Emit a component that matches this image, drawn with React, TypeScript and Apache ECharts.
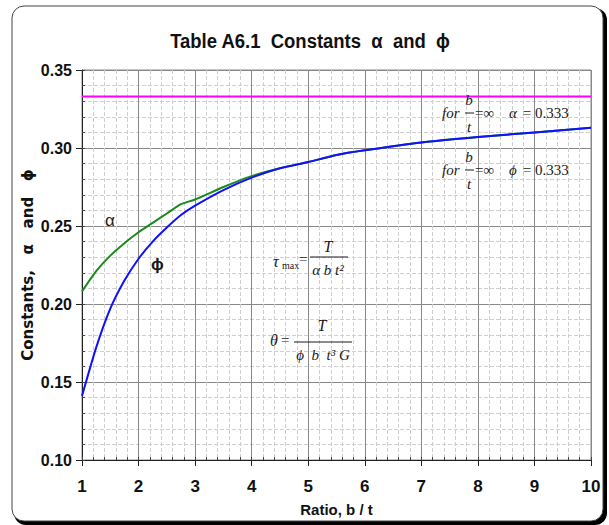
import React, { useEffect, useRef } from "react";
import * as echarts from "echarts";

// Ratio b/t and torsion constants for rectangular sections
const ratio = [1, 1.25, 1.5, 1.75, 2, 2.25, 2.5, 2.75, 3, 3.5, 4, 4.5, 5, 5.5, 6, 7, 8, 9, 10];
const alphaValues = [
  0.208, 0.221, 0.231, 0.239, 0.246, 0.252, 0.258, 0.264, 0.267, 0.275, 0.282, 0.287, 0.291, 0.2955,
  0.2985, 0.3035, 0.307, 0.31, 0.313,
];
const phiValues = [
  0.141, 0.172, 0.197, 0.215, 0.229, 0.24, 0.249, 0.257, 0.263, 0.273, 0.281, 0.287, 0.291, 0.2955,
  0.2985, 0.3035, 0.307, 0.31, 0.313,
];
const limitRatio = [1, 10];
const limitValue = 0.333;

const xMin = 1;
const xMax = 10;
const xStep = 1;
const xMinorStep = 0.2;
const yMin = 0.1;
const yMax = 0.35;
const yStep = 0.05;
const yMinorStep = 0.01;

const sans = "'Liberation Sans', Arial, sans-serif";
const dejavu = "'DejaVu Sans', Verdana, sans-serif";
const serif = "'Liberation Serif', 'Times New Roman', serif";

type TextOpts = {
  size?: number;
  italic?: boolean;
  bold?: boolean;
  family?: string;
  align?: string;
  fill?: string;
  scaleX?: number;
};

function txt(x: number, y: number, text: string, o: TextOpts = {}) {
  return {
    type: "text",
    x,
    y,
    z: 20,
    scaleX: o.scaleX ?? 1,
    style: {
      text,
      fill: o.fill ?? "#1a1a1a",
      fontSize: o.size ?? 15,
      fontStyle: o.italic ? "italic" : "normal",
      fontWeight: o.bold ? "bold" : "normal",
      fontFamily: o.family ?? serif,
      align: o.align ?? "left",
      verticalAlign: "middle",
    },
  };
}

function bar(x1: number, x2: number, y: number) {
  return {
    type: "line",
    z: 20,
    shape: { x1, y1: y, x2, y2: y },
    style: { stroke: "#1a1a1a", lineWidth: 1 },
  };
}

// "for b/t = ∞   sym = 0.333"
function limitNote(y: number, sym: string) {
  return [
    txt(442, y, "for", { italic: true }),
    txt(469, y - 13, "b", { italic: true, align: "center" }),
    bar(465, 474, y),
    txt(469, y + 14, "t", { italic: true, align: "center" }),
    txt(475, y, "=∞"),
    txt(509, y, sym, { italic: true }),
    txt(519, y, " = 0.333"),
  ];
}

const gridLine = { show: true, lineStyle: { color: "#888", width: 1 } };
const dashedLine = { show: true, lineStyle: { color: "#cfcfcf", type: "dashed", width: 1 } };
const tickLabel = { fontFamily: sans, fontWeight: "bold", color: "#111" };

export default function App() {
  const ref = useRef<HTMLDivElement>(null);

  useEffect(() => {
    if (!ref.current) return;
    const chart = echarts.init(ref.current, null, { renderer: "svg" });

    const graphic: any[] = [
      {
        type: "rect",
        z: -10,
        shape: { x: 14, y: 8, width: 593, height: 517, r: 12 },
        style: { fill: "#000" },
      },
      {
        type: "rect",
        z: -9,
        shape: { x: 12, y: 6, width: 591, height: 515, r: 12 },
        style: { fill: "#fff", stroke: "#444", lineWidth: 1 },
      },
      txt(310, 41, "Table A6.1  Constants  α  and  ϕ", {
        size: 21,
        bold: true,
        family: sans,
        align: "center",
        fill: "#111",
        scaleX: 0.88,
      }),
      txt(105, 220, "α", { size: 17, family: sans }),
      txt(151, 264, "ϕ", { size: 17, family: sans, bold: true }),
      ...limitNote(113, "α"),
      ...limitNote(170, "ϕ"),
      // shear stress formula
      txt(273, 261, "τ", { italic: true, size: 16 }),
      txt(282, 265, "max", { size: 10 }),
      txt(299, 259, "="),
      txt(328, 246, "T", { italic: true, size: 16, align: "center" }),
      bar(310, 348, 257),
      txt(328, 270, "α b t²", { italic: true, size: 15, align: "center" }),
      // angle of twist formula
      txt(270, 340, "θ", { italic: true, size: 16 }),
      txt(281, 340, "="),
      txt(322, 325, "T", { italic: true, size: 16, align: "center" }),
      bar(294, 352, 342),
      txt(323, 355, "ϕ  b  t³ G", { italic: true, size: 15, align: "center" }),
    ];

    const hidden = { show: false };

    chart.setOption({
      animation: false,
      graphic,
      grid: {
        left: 82,
        right: 18,
        top: 70,
        bottom: 65,
        show: true,
        borderColor: "#888",
        borderWidth: 1,
      },
      xAxis: [
        {
          type: "value",
          min: xMin,
          max: xMax,
          interval: xStep,
          name: "Ratio, b / t",
          nameLocation: "middle",
          nameGap: 42,
          nameMoveOverlap: false,
          nameTextStyle: { ...tickLabel, fontSize: 15 },
          axisLine: { show: true, lineStyle: { color: "#222", width: 1 } },
          axisTick: { show: true, length: 6, lineStyle: { color: "#222" } },
          axisLabel: { ...tickLabel, margin: 18, fontSize: 17 },
          splitLine: gridLine,
          minorTick: { show: false, splitNumber: 5 },
          minorSplitLine: dashedLine,
        },
        {
          // short inner ticks every 0.2
          type: "value",
          position: "bottom",
          min: xMin,
          max: xMax,
          interval: xMinorStep,
          axisLine: hidden,
          axisTick: { show: true, inside: true, length: 3, lineStyle: { color: "#444" } },
          axisLabel: hidden,
          splitLine: hidden,
        },
      ],
      yAxis: [
        {
          type: "value",
          min: yMin,
          max: yMax,
          interval: yStep,
          name: "Constants,   α   and   ϕ",
          nameLocation: "middle",
          nameGap: 47,
          nameMoveOverlap: false,
          nameTextStyle: { fontFamily: dejavu, fontWeight: "bold", fontSize: 15, color: "#111" },
          axisLine: { show: true, lineStyle: { color: "#222", width: 1 } },
          axisTick: { show: true, length: 6, lineStyle: { color: "#222" } },
          axisLabel: {
            ...tickLabel,
            margin: 10,
            fontSize: 16,
            formatter: (v: number) => v.toFixed(2),
          },
          splitLine: gridLine,
          minorTick: { show: false, splitNumber: 5 },
          minorSplitLine: dashedLine,
        },
        {
          // short inner ticks every 0.01
          type: "value",
          position: "left",
          min: yMin,
          max: yMax,
          interval: yMinorStep,
          axisLine: hidden,
          axisTick: { show: true, inside: true, length: 3, lineStyle: { color: "#444" } },
          axisLabel: hidden,
          splitLine: hidden,
        },
      ],
      series: [
        {
          name: "limit",
          type: "line",
          data: limitRatio.map((x) => [x, limitValue]),
          symbol: "none",
          lineStyle: { color: "#ff00ff", width: 2 },
          z: 3,
        },
        {
          name: "α",
          type: "line",
          data: ratio.map((x, i) => [x, alphaValues[i]]),
          symbol: "none",
          smooth: 0.2,
          lineStyle: { color: "#1a8a1a", width: 2 },
          z: 3,
        },
        {
          name: "ϕ",
          type: "line",
          data: ratio.map((x, i) => [x, phiValues[i]]),
          symbol: "none",
          smooth: 0.2,
          lineStyle: { color: "#1010ff", width: 2 },
          z: 4,
        },
      ],
    });

    return () => chart.dispose();
  }, []);

  return (
    <div
      ref={ref}
      style={{ position: "absolute", left: 0, top: 0, width: 609, height: 525 }}
    />
  );
}
